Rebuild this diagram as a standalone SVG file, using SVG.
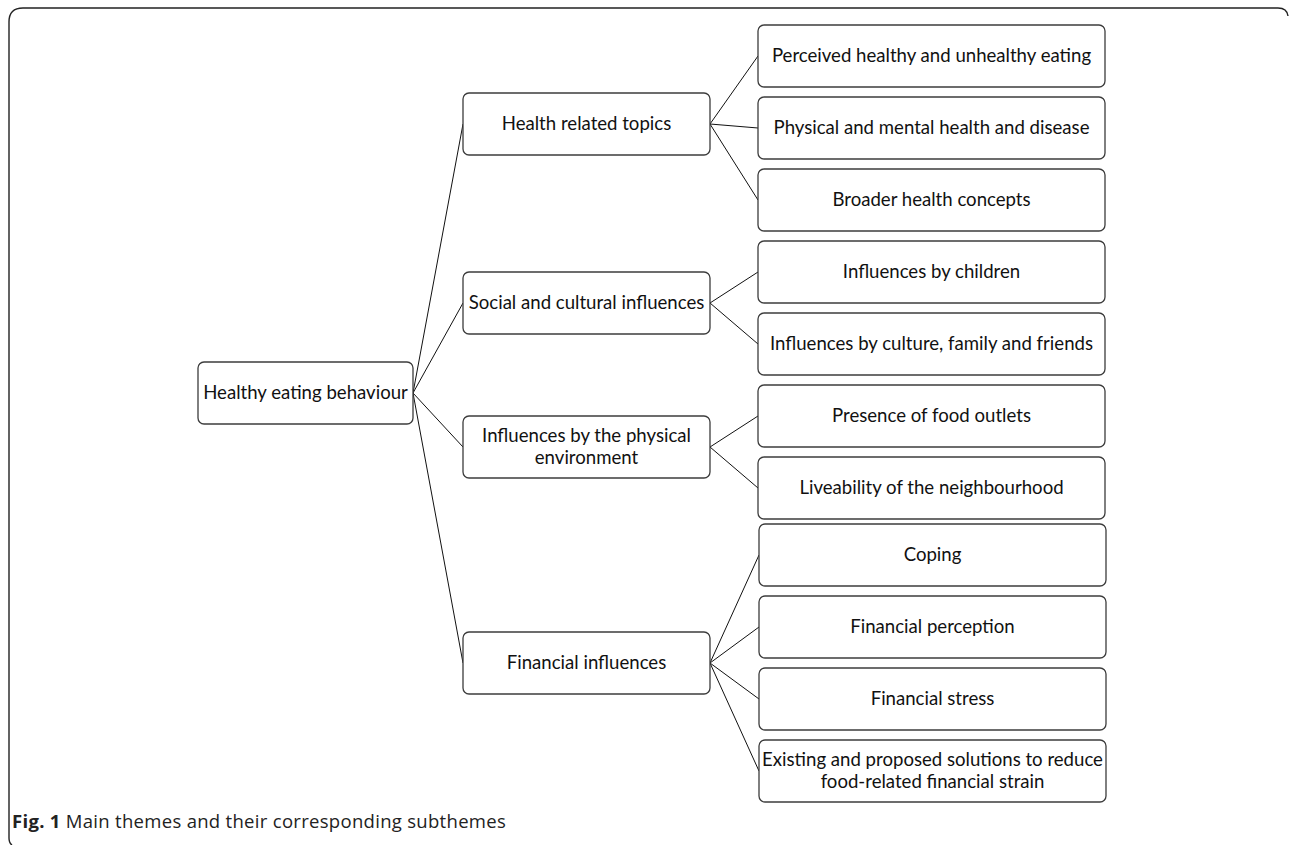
<svg xmlns="http://www.w3.org/2000/svg" width="1290" height="845" viewBox="0 0 1290 845">
<style>
.box{fill:#fff;stroke:#3c3c3c;stroke-width:1.3}
.t{font-family:Lato,"Liberation Sans",sans-serif;font-size:18.6px;fill:#111;text-anchor:middle}
.cap{font-family:"Open Sans","Noto Sans",sans-serif;font-size:18.5px;letter-spacing:0.3px;fill:#222}
#connectors line{stroke:#111;stroke-width:1}
</style>
<rect width="1290" height="845" fill="#fff"/>
<path d="M 12 845 Q 9 843 9 838 L 9 22 Q 9 8 23 8 L 1278 8 Q 1287 8 1288 16" fill="none" stroke="#222" stroke-width="1.4"/>
<g id="connectors">
<line x1="413" y1="393" x2="463" y2="124"/>
<line x1="413" y1="393" x2="463" y2="303"/>
<line x1="413" y1="393" x2="463" y2="447"/>
<line x1="413" y1="393" x2="463" y2="663"/>
<line x1="710" y1="124" x2="758" y2="56"/>
<line x1="710" y1="124" x2="758" y2="128"/>
<line x1="710" y1="124" x2="758" y2="200"/>
<line x1="710" y1="303" x2="758" y2="272"/>
<line x1="710" y1="303" x2="758" y2="344"/>
<line x1="710" y1="447" x2="758" y2="416"/>
<line x1="710" y1="447" x2="758" y2="488"/>
<line x1="710" y1="663" x2="759" y2="555"/>
<line x1="710" y1="663" x2="759" y2="627"/>
<line x1="710" y1="663" x2="759" y2="699"/>
<line x1="710" y1="663" x2="759" y2="771"/>
</g>
<g id="root"><rect class="box" x="198" y="362" width="215" height="62" rx="6"/><text class="t" x="305.5" y="399">Healthy eating behaviour</text></g>
<g id="health"><rect class="box" x="463" y="93" width="247" height="62" rx="6"/><text class="t" x="586.5" y="130">Health related topics</text></g>
<g id="social"><rect class="box" x="463" y="272" width="247" height="62" rx="6"/><text class="t" x="586.5" y="309">Social and cultural influences</text></g>
<g id="physical"><rect class="box" x="463" y="416" width="247" height="62" rx="6"/><text class="t" x="586.5" y="442">Influences by the physical</text><text class="t" x="586.5" y="464">environment</text></g>
<g id="financial"><rect class="box" x="463" y="632" width="247" height="62" rx="6"/><text class="t" x="586.5" y="669">Financial influences</text></g>
<g id="perceived"><rect class="box" x="758" y="25" width="347" height="62" rx="6"/><text class="t" x="931.5" y="62">Perceived healthy and unhealthy eating</text></g>
<g id="physmental"><rect class="box" x="758" y="97" width="347" height="62" rx="6"/><text class="t" x="931.5" y="134">Physical and mental health and disease</text></g>
<g id="broader"><rect class="box" x="758" y="169" width="347" height="62" rx="6"/><text class="t" x="931.5" y="206">Broader health concepts</text></g>
<g id="children"><rect class="box" x="758" y="241" width="347" height="62" rx="6"/><text class="t" x="931.5" y="278">Influences by children</text></g>
<g id="culture"><rect class="box" x="758" y="313" width="347" height="62" rx="6"/><text class="t" x="931.5" y="350">Influences by culture, family and friends</text></g>
<g id="presence"><rect class="box" x="758" y="385" width="347" height="62" rx="6"/><text class="t" x="931.5" y="422">Presence of food outlets</text></g>
<g id="liveability"><rect class="box" x="758" y="457" width="347" height="62" rx="6"/><text class="t" x="931.5" y="494">Liveability of the neighbourhood</text></g>
<g id="coping"><rect class="box" x="759" y="524" width="347" height="62" rx="6"/><text class="t" x="932.5" y="561">Coping</text></g>
<g id="finperception"><rect class="box" x="759" y="596" width="347" height="62" rx="6"/><text class="t" x="932.5" y="633">Financial perception</text></g>
<g id="finstress"><rect class="box" x="759" y="668" width="347" height="62" rx="6"/><text class="t" x="932.5" y="705">Financial stress</text></g>
<g id="existing"><rect class="box" x="759" y="740" width="347" height="62" rx="6"/><text class="t" x="932.5" y="766">Existing and proposed solutions to reduce</text><text class="t" x="932.5" y="788">food-related financial strain</text></g>
<text class="cap" x="12" y="828"><tspan font-weight="bold">Fig. 1</tspan> Main themes and their corresponding subthemes</text>
</svg>
